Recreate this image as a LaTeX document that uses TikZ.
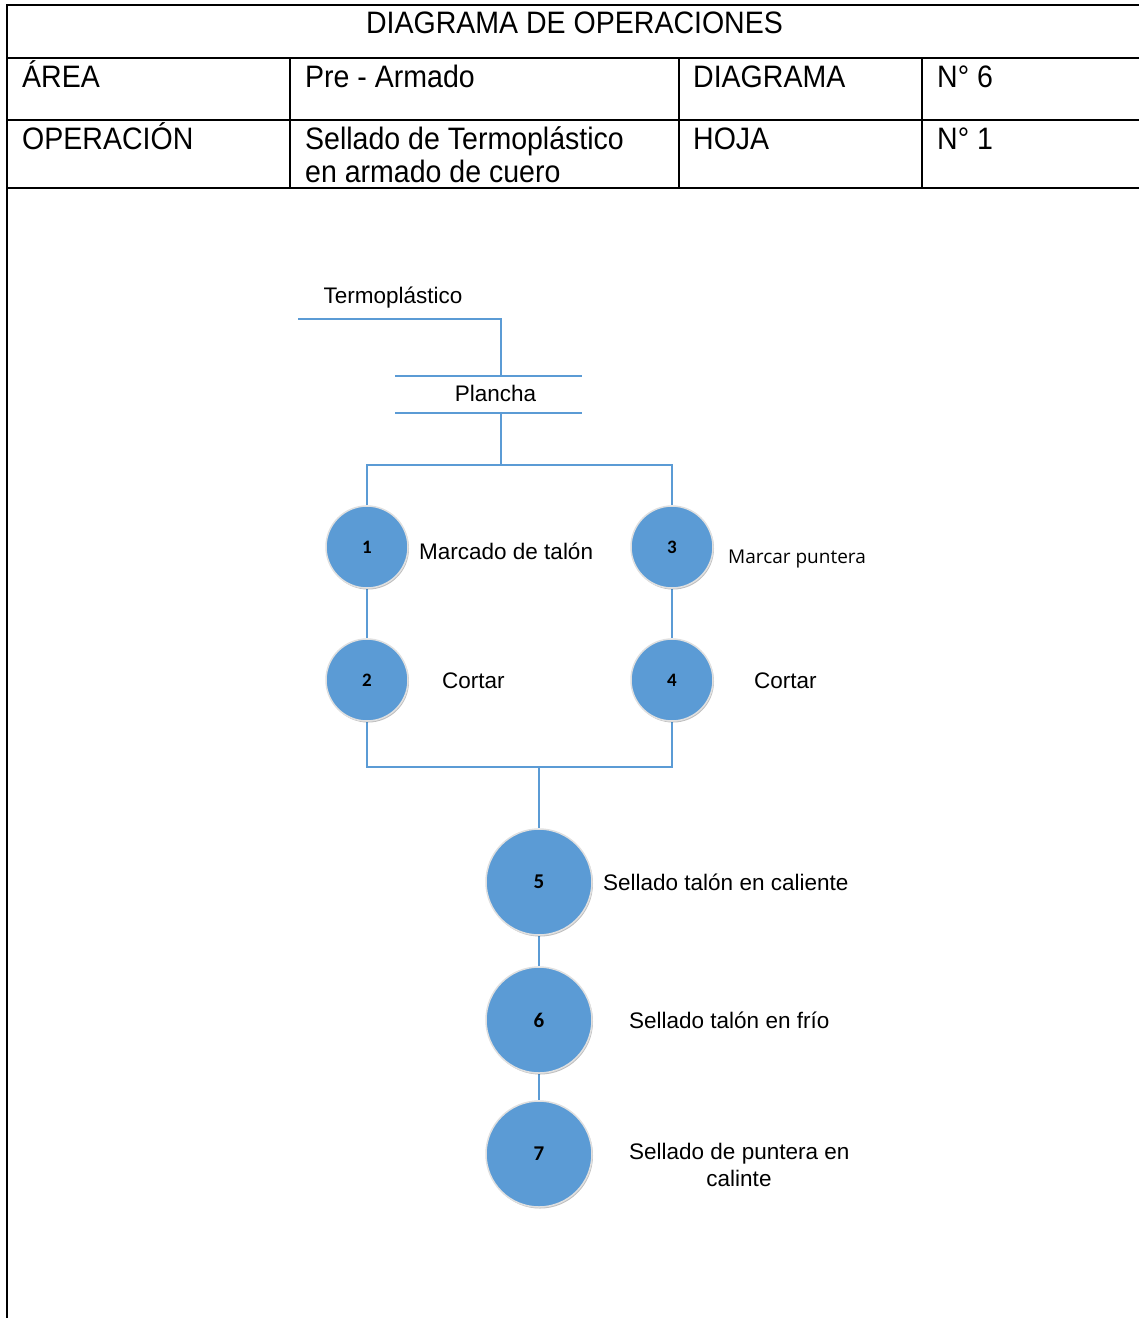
\documentclass[tikz,border=0pt]{standalone}
\usepackage{fontspec}
\setmainfont{Liberation Sans}
\newfontfamily\opensans{Open Sans}
\newfontfamily\carlito{Carlito}
\usetikzlibrary{shadows,backgrounds}
\definecolor{opblue}{HTML}{5B9BD5}
\newcommand{\hdrtext}[1]{\scalebox{0.92}[1]{#1}}
\begin{document}
\begin{tikzpicture}[x=1pt,y=-1pt,
  tbl/.style={line width=2pt, black},
  flow/.style={line width=1.8pt, opblue},
  cell/.style={anchor=base west, inner sep=0pt, font=\fontsize{31}{33}\selectfont},
  lbl/.style={anchor=base west, inner sep=0pt, font=\fontsize{22.5}{27}\selectfont},
  opnode/.style={circle, fill=opblue, draw=black!12, line width=1.5pt, inner sep=0pt,
    drop shadow={shadow xshift=1pt, shadow yshift=-1.5pt, opacity=0.25, fill=black}},
  smallop/.style={opnode, minimum size=82pt, font=\carlito\bfseries\fontsize{19}{19}\selectfont},
  bigop/.style={opnode, minimum size=106pt, font=\carlito\bfseries\fontsize{21}{21}\selectfont}]
\useasboundingbox (0,0) rectangle (1139,1318);

% header table
\draw[tbl] (7,5) -- (1139,5);
\draw[tbl] (7,4) -- (7,1318);
\draw[tbl] (7,58) -- (1139,58);
\draw[tbl] (7,120) -- (1139,120);
\draw[tbl] (7,188) -- (1139,188);
\foreach \cx in {290,679,922} \draw[tbl] (\cx,58) -- (\cx,188);

\node[cell, anchor=base] (title) at (574.5,33) {\hdrtext{DIAGRAMA DE OPERACIONES}};
\node[cell] (area) at (22,87) {\hdrtext{ÁREA}};
\node[cell] (areav) at (305,87) {\hdrtext{Pre - Armado}};
\node[cell] (diag) at (693,87) {\hdrtext{DIAGRAMA}};
\node[cell] (diagv) at (937,87) {\hdrtext{N° 6}};
\node[cell] (oper) at (22,149) {\hdrtext{OPERACIÓN}};
\node[cell] (operv) at (305,149) {\hdrtext{Sellado de Termoplástico}};
\node[cell] (operv2) at (305,182) {\hdrtext{en armado de cuero}};
\node[cell] (hoja) at (693,149) {\hdrtext{HOJA}};
\node[cell] (hojav) at (937,149) {\hdrtext{N° 1}};

% material input and ironing station
\node[lbl, anchor=base] (termo) at (393,303) {Termoplástico};
\coordinate (tin) at (298,319);
\coordinate (ptop) at (501,376);
\coordinate (pbot) at (501,413);
\coordinate (split) at (501,465);
\draw[flow] (tin) -- (tin -| ptop) -- (ptop);
\draw[flow] (395,376) -- (582,376);
\draw[flow] (395,413) -- (582,413);
\node[lbl, anchor=base] (plancha) at (495.5,401) {Plancha};
\draw[flow] (pbot) -- (split);

% operations
\node[smallop] (c1) at (367,547) {1};
\node[smallop] (c2) at (367,680) {2};
\node[smallop] (c3) at (672,547) {3};
\node[smallop] (c4) at (672,680) {4};
\node[bigop] (c5) at (539,882) {5};
\node[bigop] (c6) at (539,1020) {6};
\node[bigop] (c7) at (539,1154) {7};
\coordinate (merge) at (539,767);

% connectors behind the circles
\begin{scope}[on background layer]
\draw[flow] (c1.north) -- (c1.north |- split) -- (c3.north |- split) -- (c3.north);
\draw[flow] (c1) -- (c2);
\draw[flow] (c3) -- (c4);
\draw[flow] (c2.south) -- (c2.south |- merge) -- (c4.south |- merge) -- (c4.south);
\draw[flow] (merge) -- (c5.north);
\draw[flow] (c5) -- (c6);
\draw[flow] (c6) -- (c7);
\end{scope}

% operation labels
\node[lbl] (l1) at (419,559) {Marcado de talón};
\node[lbl, font=\opensans\fontsize{19}{22}\selectfont] (l3) at (728,563) {Marcar puntera};
\node[lbl] (l2) at (442,688) {Cortar};
\node[lbl] (l4) at (754,688) {Cortar};
\node[lbl] (l5) at (603,890) {Sellado talón en caliente};
\node[lbl] (l6) at (629,1028) {Sellado talón en frío};
\node[lbl] (l7) at (629,1159) {Sellado de puntera en};
\node[lbl, anchor=base] (l7b) at (739,1186) {calinte};
\end{tikzpicture}
\end{document}
